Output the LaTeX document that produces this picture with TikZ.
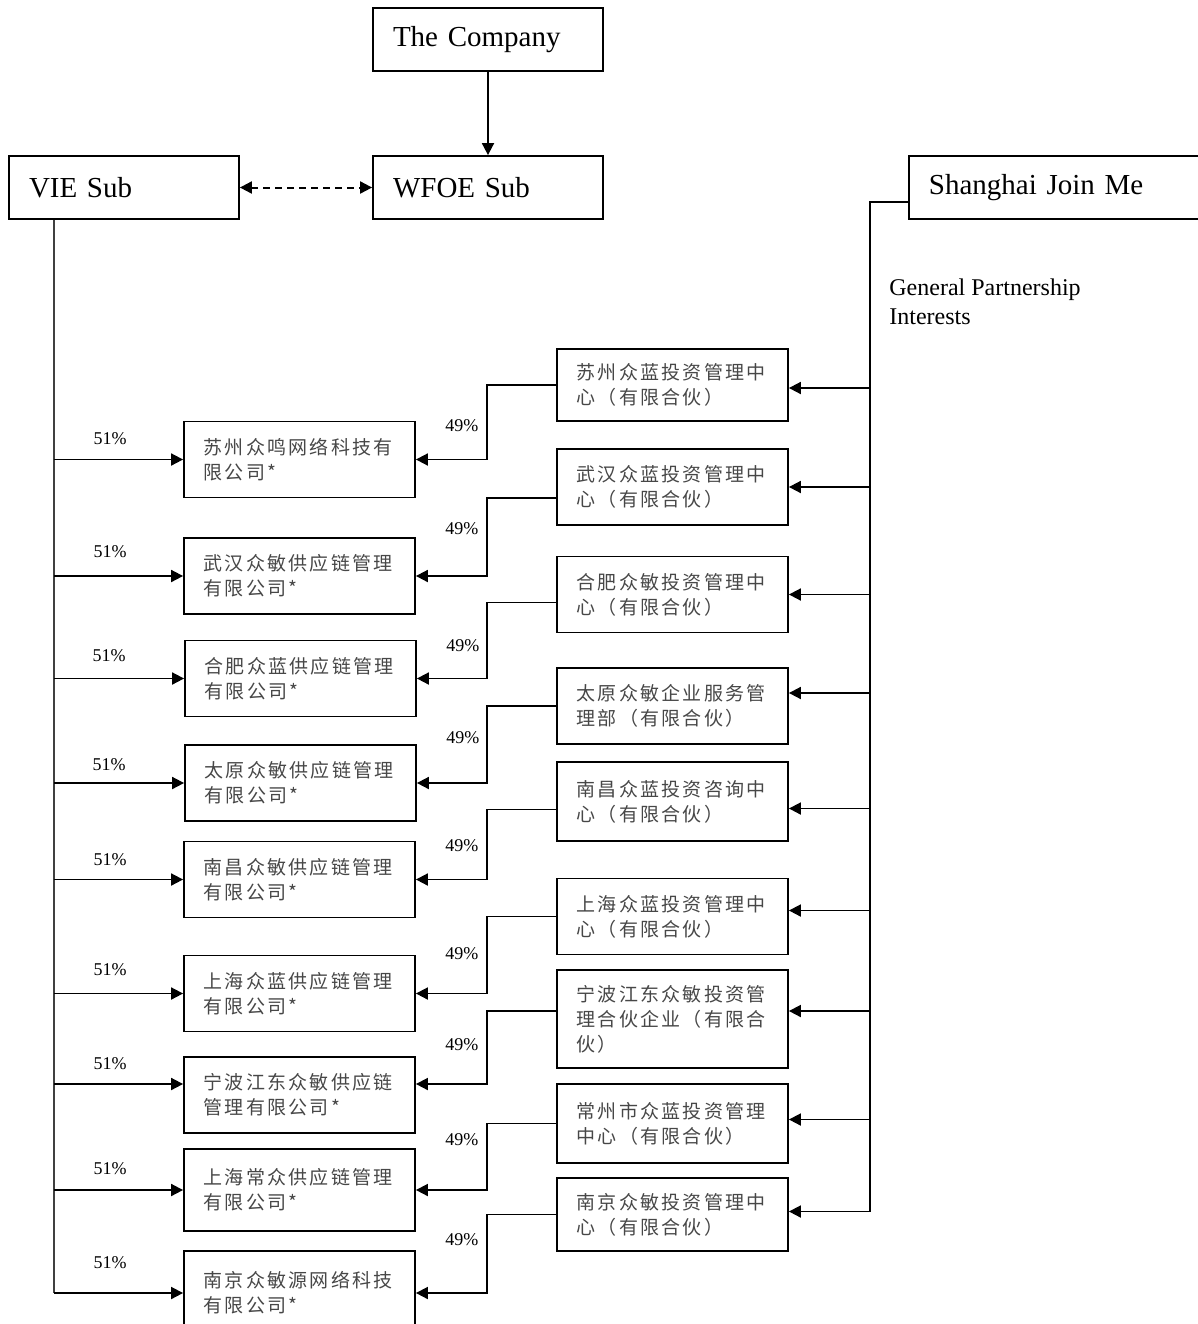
\documentclass[tikz,border=0pt]{standalone}
\usepackage{fontspec}
\setmainfont{Liberation Serif}
\newfontfamily\cjk[LetterSpace=12]{Noto Sans CJK SC}
\usetikzlibrary{arrows.meta}

\begin{document}
\begin{tikzpicture}[x=0.5pt, y=-0.5pt,
    box/.style = {draw, line width=0.9pt, shape=rectangle, align=left, text width=95pt,
                  inner xsep=10pt, minimum height=31.5pt, font=\fontsize{14.5}{17}\selectfont},
    cobox/.style = {draw, line width=0.9pt, shape=rectangle, align=left, text width=96pt,
                    inner xsep=9.75pt, inner ysep=4pt, minimum height=38pt, text=black!72,
                    font=\cjk\fontsize{9.5}{12.5}\selectfont},
    pct/.style = {inner sep=1pt, font=\fontsize{9}{11}\selectfont},
    arr/.style = {-{Triangle[length=6pt,width=6pt]}, line width=0.9pt}]
\useasboundingbox (0,0) rectangle (1198,1324);

% top row
\node[box] (company) at (488,39.5) {The Company};
\node[box] (wfoe) at (488,187.5) {WFOE Sub};
\node[box] (vie) at (124,187.5) {VIE Sub};
\node[box, anchor=west, text width=130pt] (sjm) at (908,187.5) {Shanghai Join Me};

\draw[arr] (company) -- (wfoe);
\draw[dashed, dash pattern=on 3.5pt off 2.5pt, line width=1pt,
      {Triangle[length=6pt,width=6pt]}-{Triangle[length=6pt,width=6pt]}] (vie) -- (wfoe);

\node[anchor=west, align=left, inner sep=0pt, font=\fontsize{12}{14.5}\selectfont] (gpi)
  at (889,301.5) {General Partnership\\Interests};

% operating companies
\node[cobox] (l1) at (299.5,459.5) {苏州众鸣网络科技有\\限公司*};
\node[cobox] (l2) at (299.5,576) {武汉众敏供应链管理\\有限公司*};
\node[cobox] (l3) at (300.5,678.5) {合肥众蓝供应链管理\\有限公司*};
\node[cobox] (l4) at (300.5,783) {太原众敏供应链管理\\有限公司*};
\node[cobox] (l5) at (299.5,879.5) {南昌众敏供应链管理\\有限公司*};
\node[cobox] (l6) at (299.5,993.5) {上海众蓝供应链管理\\有限公司*};
\node[cobox] (l7) at (299.5,1095) {宁波江东众敏供应链\\管理有限公司*};
\node[cobox, minimum height=41pt] (l8) at (299.5,1190) {上海常众供应链管理\\有限公司*};
\node[cobox, minimum height=42pt] (l9) at (299.5,1293) {南京众敏源网络科技\\有限公司*};

% partnerships
\node[cobox, minimum height=36pt] (r1) at (672.5,385) {苏州众蓝投资管理中\\心（有限合伙）};
\node[cobox] (r2) at (672.5,487) {武汉众蓝投资管理中\\心（有限合伙）};
\node[cobox] (r3) at (672.5,594.5) {合肥众敏投资管理中\\心（有限合伙）};
\node[cobox] (r4) at (672.5,706) {太原众敏企业服务管\\理部（有限合伙）};
\node[cobox, minimum height=39.5pt] (r5) at (672.5,801.5) {南昌众蓝投资咨询中\\心（有限合伙）};
\node[cobox] (r6) at (672.5,916.5) {上海众蓝投资管理中\\心（有限合伙）};
\node[cobox, minimum height=49pt] (r7) at (672.5,1019) {宁波江东众敏投资管\\理合伙企业（有限合\\伙）};
\node[cobox, minimum height=39.5pt] (r8) at (672.5,1123.5) {常州市众蓝投资管理\\中心（有限合伙）};
\node[cobox, minimum height=36.5pt] (r9) at (672.5,1214.5) {南京众敏投资管理中\\心（有限合伙）};

% VIE Sub holdings
\coordinate (vietrunk) at ([xshift=23pt]vie.south west);
\draw[line width=0.9pt, black!75] (vietrunk) -- (vietrunk |- l9.west);
\draw[arr] (vietrunk |- l1.west) -- (l1.west);
\draw[arr] (vietrunk |- l2.west) -- (l2.west);
\draw[arr] (vietrunk |- l3.west) -- (l3.west);
\draw[arr] (vietrunk |- l4.west) -- (l4.west);
\draw[arr] (vietrunk |- l5.west) -- (l5.west);
\draw[arr] (vietrunk |- l6.west) -- (l6.west);
\draw[arr] ([yshift=5.5pt]vietrunk |- l7.west) -- ([yshift=5.5pt]l7.west);
\draw[arr] (vietrunk |- l8.west) -- (l8.west);
\draw[arr] (vietrunk |- l9.west) -- (l9.west);

\node[pct] (v1) at ([xshift=-36.5pt,yshift=10.5pt]l1.west) {51\%};
\node[pct] (v2) at ([xshift=-36.5pt,yshift=12pt]l2.west) {51\%};
\node[pct] (v3) at ([xshift=-37.5pt,yshift=11.5pt]l3.west) {51\%};
\node[pct] (v4) at ([xshift=-37.5pt,yshift=9pt]l4.west) {51\%};
\node[pct] (v5) at ([xshift=-36.5pt,yshift=10pt]l5.west) {51\%};
\node[pct] (v6) at ([xshift=-36.5pt,yshift=12pt]l6.west) {51\%};
\node[pct] (v7) at ([xshift=-36.5pt,yshift=15.5pt]l7.west) {51\%};
\node[pct] (v8) at ([xshift=-36.5pt,yshift=10.5pt]l8.west) {51\%};
\node[pct] (v9) at ([xshift=-36.5pt,yshift=15pt]l9.west) {51\%};

% partnership holdings
\coordinate (elbow) at (487,0);
\draw[arr] (r1.west) -- (elbow |- r1.west) |- (l1.east);
\draw[arr] ([yshift=-5.5pt]r2.west) -- ([yshift=-5.5pt]elbow |- r2.west) |- (l2.east);
\draw[arr] ([yshift=-4pt]r3.west) -- ([yshift=-4pt]elbow |- r3.west) |- (l3.east);
\draw[arr] (r4.west) -- (elbow |- r4.west) |- (l4.east);
\draw[arr] ([yshift=-4pt]r5.west) -- ([yshift=-4pt]elbow |- r5.west) |- (l5.east);
\draw[arr] (r6.west) -- (elbow |- r6.west) |- (l6.east);
\draw[arr] ([yshift=4pt]r7.west) -- ([yshift=4pt]elbow |- r7.west) |- ([yshift=5.5pt]l7.east);
\draw[arr] (r8.west) -- (elbow |- r8.west) |- (l8.east);
\draw[arr] (r9.west) -- (elbow |- r9.west) |- (l9.east);

\node[pct] (w1) at ([xshift=23pt,yshift=17pt]l1.east) {49\%};
\node[pct] (w2) at ([xshift=23pt,yshift=23.5pt]l2.east) {49\%};
\node[pct] (w3) at ([xshift=23pt,yshift=16.5pt]l3.east) {49\%};
\node[pct] (w4) at ([xshift=23pt,yshift=22.5pt]l4.east) {49\%};
\node[pct] (w5) at ([xshift=23pt,yshift=17pt]l5.east) {49\%};
\node[pct] (w6) at ([xshift=23pt,yshift=20pt]l6.east) {49\%};
\node[pct] (w7) at ([xshift=23pt,yshift=25pt]l7.east) {49\%};
\node[pct] (w8) at ([xshift=23pt,yshift=25pt]l8.east) {49\%};
\node[pct] (w9) at ([xshift=23pt,yshift=26.5pt]l9.east) {49\%};

% general partner
\coordinate (sjtrunk) at ([xshift=-19pt,yshift=-7.25pt]sjm.west);
\draw[line width=0.9pt] (sjtrunk -| sjm.west) -- (sjtrunk) -- ([yshift=1.5pt]sjtrunk |- r9.east);
\draw[arr] ([yshift=-1.5pt]sjtrunk |- r1.east) -- ([yshift=-1.5pt]r1.east);
\draw[arr] (sjtrunk |- r2.east) -- (r2.east);
\draw[arr] (sjtrunk |- r3.east) -- (r3.east);
\draw[arr] ([yshift=6.5pt]sjtrunk |- r4.east) -- ([yshift=6.5pt]r4.east);
\draw[arr] ([yshift=-3.5pt]sjtrunk |- r5.east) -- ([yshift=-3.5pt]r5.east);
\draw[arr] ([yshift=3pt]sjtrunk |- r6.east) -- ([yshift=3pt]r6.east);
\draw[arr] ([yshift=4pt]sjtrunk |- r7.east) -- ([yshift=4pt]r7.east);
\draw[arr] ([yshift=2pt]sjtrunk |- r8.east) -- ([yshift=2pt]r8.east);
\draw[arr] ([yshift=1.5pt]sjtrunk |- r9.east) -- ([yshift=1.5pt]r9.east);

\end{tikzpicture}
\end{document}
